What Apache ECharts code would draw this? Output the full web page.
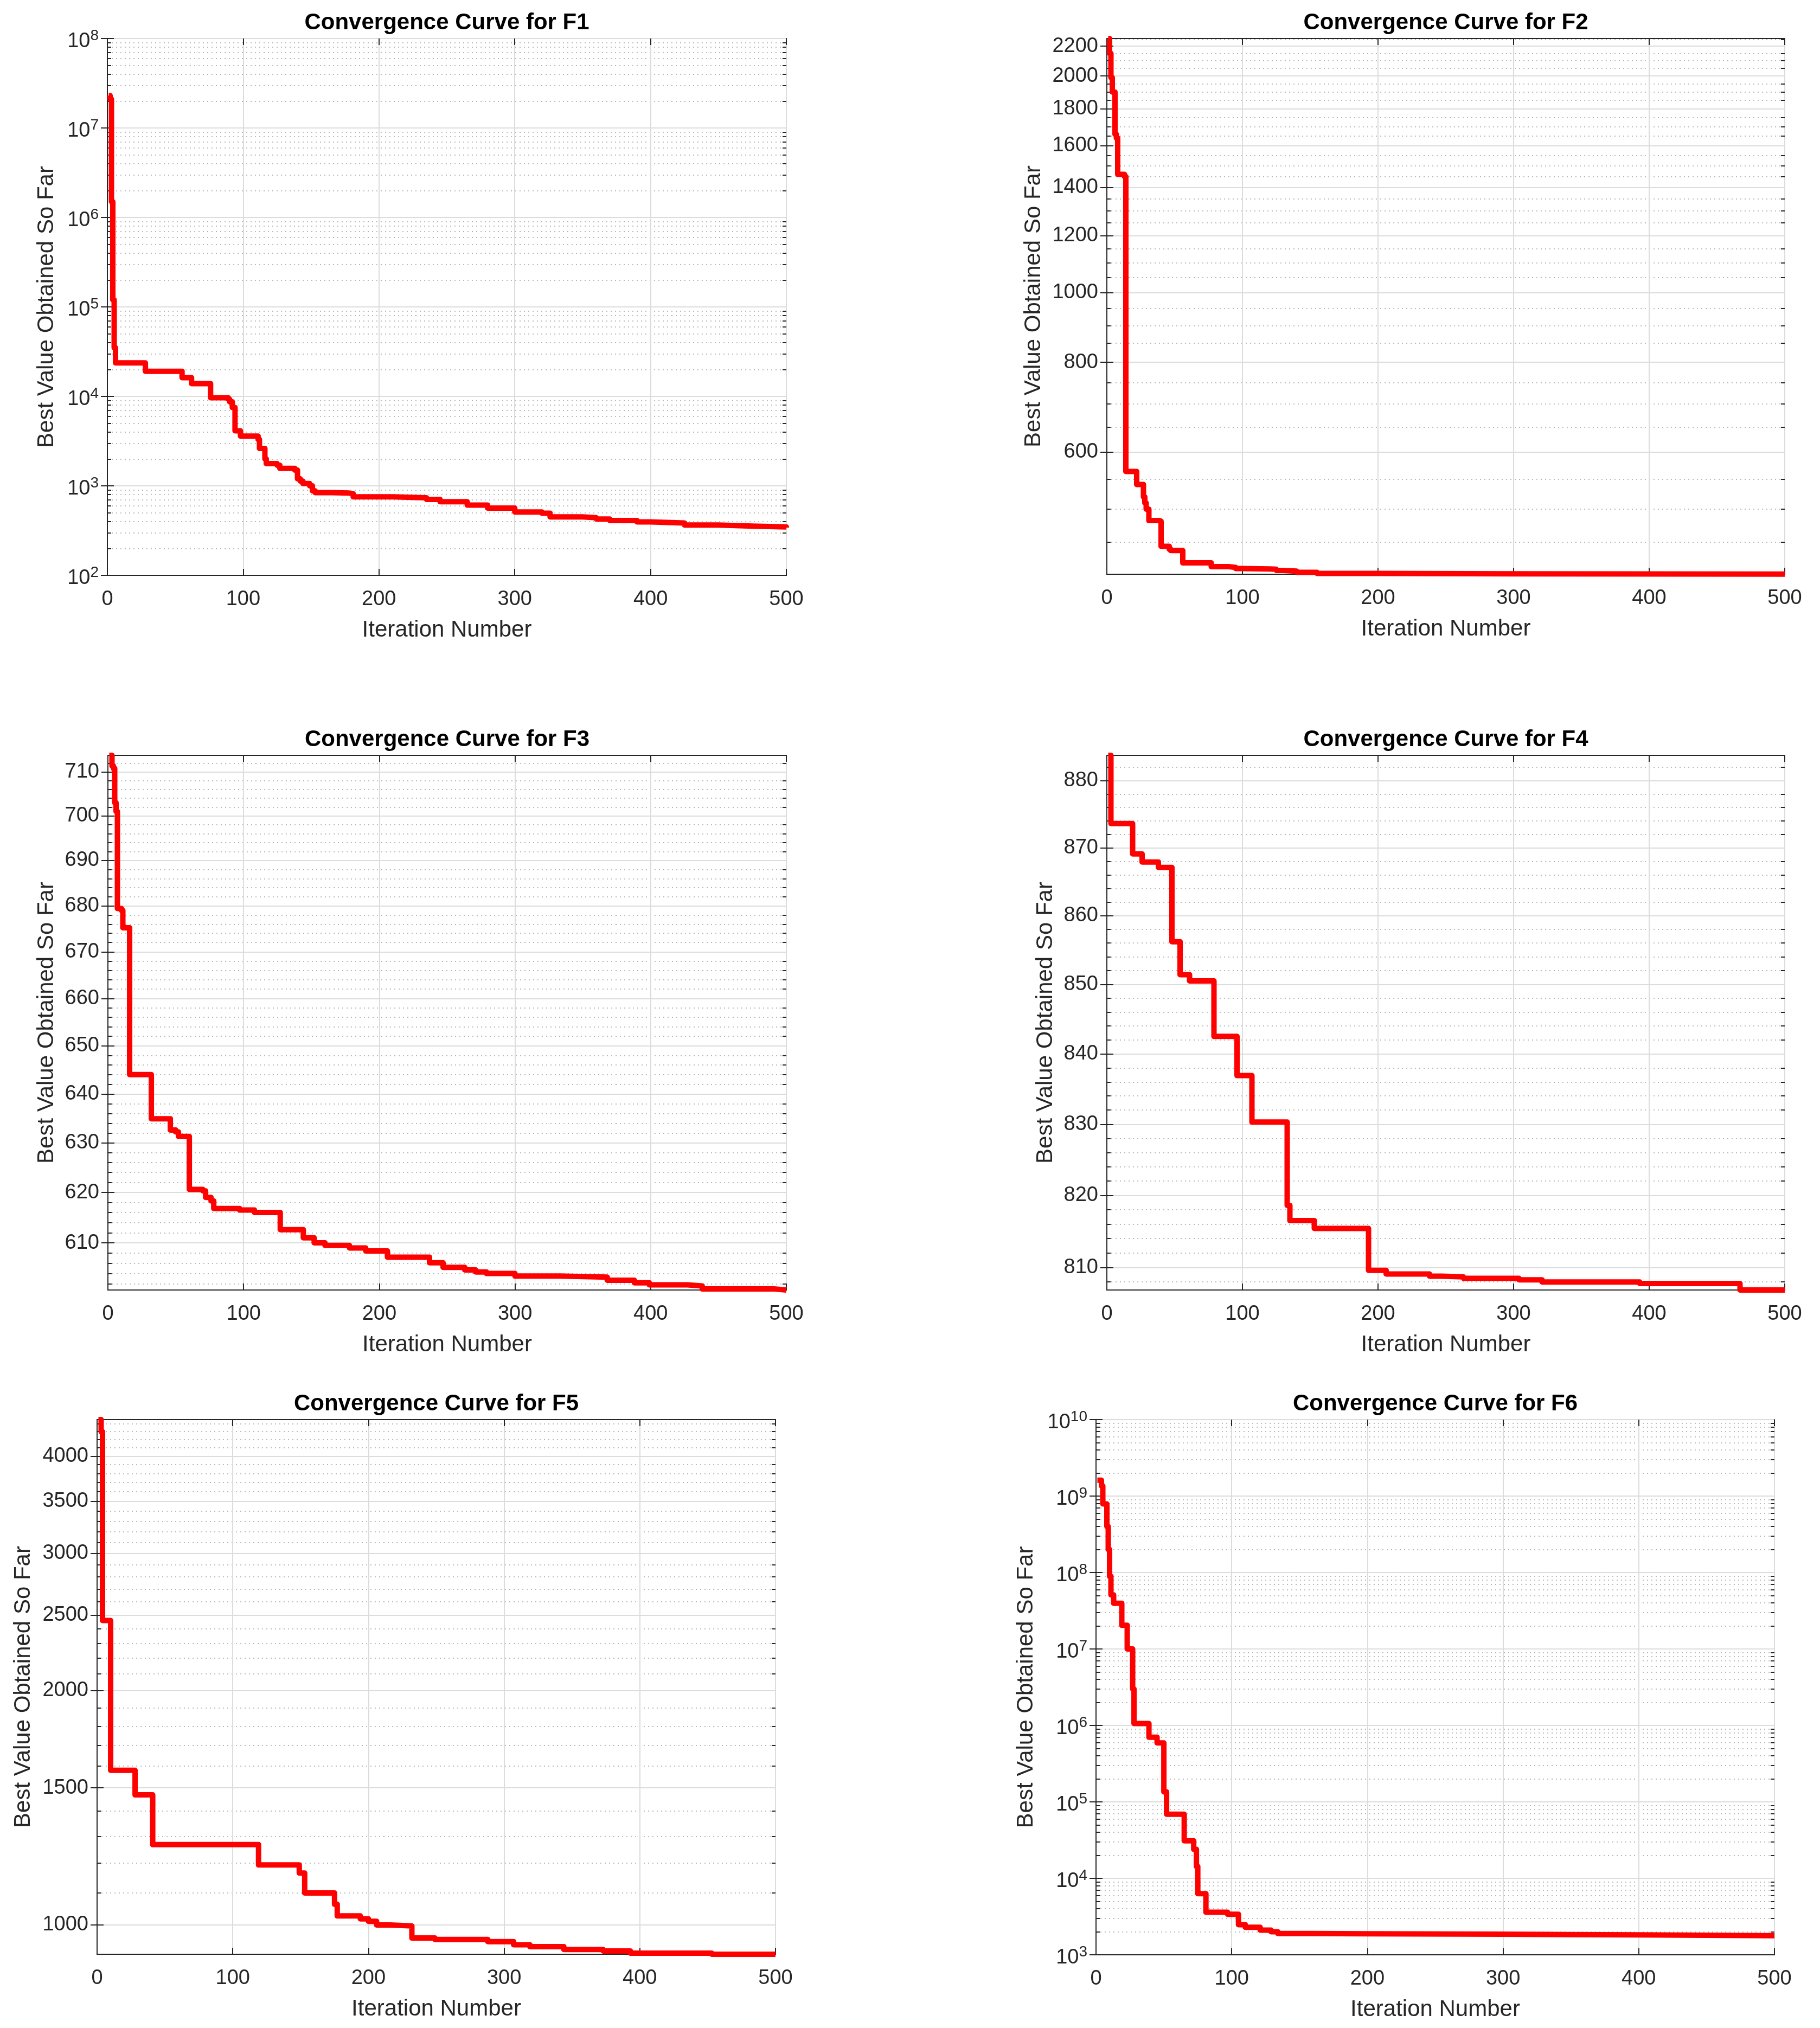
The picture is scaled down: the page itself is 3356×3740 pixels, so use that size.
<!DOCTYPE html>
<html>
<head>
<meta charset="utf-8">
<script src="https://cdn.jsdelivr.net/npm/echarts@6/dist/echarts.min.js"></script>
<style>
html,body{margin:0;padding:0;background:#ffffff;}
#chart{width:3356px;height:3740px;}
</style>
</head>
<body>
<div id="chart"></div>
<script>
// ---------------- data ----------------
const titles = ['Convergence Curve for F1','Convergence Curve for F2','Convergence Curve for F3',
                'Convergence Curve for F4','Convergence Curve for F5','Convergence Curve for F6'];
const xName = 'Iteration Number';
const yName = 'Best Value Obtained So Far';
const xTicks = [0, 100, 200, 300, 400, 500];

const itF1 = [1,2,3,4,5,6,28,55,62,76,89,90,92,94,98,111,112,116,117,125,127,138,140,142,144,149,151,153,165,178,181,210,235,245,265,280,300,320,326,350,360,370,390,400,425,450,475,500];
const vF1  = [2.3e7,2.1e7,1.5e6,1.2e5,3.5e4,2.37e4,1.91e4,1.62e4,1.39e4,9650,9300,8700,7500,4120,3600,3300,2620,2000,1770,1700,1570,1500,1200,1130,1060,1000,880,840,830,815,755,735,705,665,610,565,510,495,450,440,425,410,395,385,365,355,348,342];

const itF2 = [1,2,3,4,6,7,8,13,14,22,27,28,29,31,39,40,46,47,56,77,90,95,100,120,125,130,140,155,200,300,400,500];
const vF2  = [2255,2150,1990,1900,1660,1640,1460,1450,564,541,520,510,500,482,481,444,440,438,421,416,415,413.5,413,412.5,411,410,408.5,407,406.6,406.3,406.1,406];

const itF3 = [1,3,4,5,6,7,10,11,16,32,46,50,52,60,70,72,76,78,97,108,127,144,152,160,178,190,206,237,247,263,271,279,300,333,368,388,399,427,438,491,500];
const vF3  = [713.8,711.4,710.8,703,701,679.4,679,675.2,644,634.9,632.6,632.2,631.3,620.6,620.3,619,618.3,616.8,616.5,616,612.6,611,610,609.5,609,608.4,607.2,606.1,605.2,604.7,604.3,604,603.5,603.3,602.7,602.2,601.8,601.6,601,600.8,600.8];

const itF4 = [1,3,19,26,38,48,54,61,79,96,107,133,135,153,193,206,238,247,263,304,321,393,467,500];
const vF4  = [883.8,873.6,869.1,867.9,867.1,856.2,851.4,850.5,842.5,836.9,830.3,818.6,816.5,815.4,809.6,809.1,808.8,808.7,808.5,808.3,808.0,807.8,806.9,806.9];

const itF5 = [1,3,4,10,28,41,119,149,153,175,177,194,200,206,216,232,249,288,307,319,344,373,393,453,500];
const vF5  = [4456,4300,2460,1580,1469,1268,1194,1166,1099,1063,1027,1018,1011,1000,997,962,958,952,943,938,930,926,920,917,917];

const itF6 = [1,4,5,8,9,10,11,13,19,23,27,28,39,45,50,52,65,72,74,75,81,97,105,110,121,129,134,160,200,300,350,400,450,500];
const vF6  = [1.61e9,1.36e9,7.9e8,4.0e8,2.0e8,8.9e7,5.1e7,3.96e7,2.04e7,1.0e7,3.0e6,1.06e6,7.0e5,5.9e5,1.35e5,6.9e4,3.1e4,2.4e4,1.43e4,6300,3600,3390,2480,2290,2100,2000,1900,1880,1860,1840,1820,1800,1780,1770];

// y-axis ranges and labelled ticks
const yRangeF1 = [1e2, 1e8];     const yTicksF1 = [1e2,1e3,1e4,1e5,1e6,1e7,1e8];
const yRangeF2 = [406, 2255];    const yTicksF2 = [600,800,1000,1200,1400,1600,1800,2000,2200];
const yRangeF3 = [600.8, 713.8]; const yTicksF3 = [610,620,630,640,650,660,670,680,690,700,710];
const yRangeF4 = [806.9, 883.8]; const yTicksF4 = [810,820,830,840,850,860,870,880];
const yRangeF5 = [917, 4456];    const yTicksF5 = [1000,1500,2000,2500,3000,3500,4000];
const yRangeF6 = [1e3, 1e10];    const yTicksF6 = [1e3,1e4,1e5,1e6,1e7,1e8,1e9,1e10];

// minor (unlabelled) tick positions
function decadeMinors(k0, k1){ const r=[]; for(let k=k0;k<=k1;k++){ for(let m=2;m<=9;m++){ r.push(m*Math.pow(10,k)); } } return r; }
function stepMinors(a, b, step, majors){ const r=[]; for(let v=a; v<=b+1e-9; v+=step){ const x=+v.toFixed(6); if (majors.indexOf(x)<0) r.push(x); } return r; }
const yMinorF1 = decadeMinors(2, 7);
const yMinorF2 = stepMinors(450, 2250, 50, yTicksF2);
const yMinorF3 = stepMinors(602, 712, 2, yTicksF3);
const yMinorF4 = stepMinors(808, 882, 2, yTicksF4);
const yMinorF5 = stepMinors(1100, 4400, 100, yTicksF5);
const yMinorF6 = decadeMinors(3, 9);

// ---------------- layout & style ----------------
const FONT = "'Liberation Sans', Arial, Helvetica, sans-serif";
const TXT = '#262626';
const MAJOR_GRID = '#dcdcdc';
const MINOR_GRID = '#b9b9b9';

const panels = [
  {it:itF1, v:vF1, range:yRangeF1, ticks:yTicksF1, minor:yMinorF1, pow:true,  box:[198,71,1252,990],   yGap:91},
  {it:itF2, v:vF2, range:yRangeF2, ticks:yTicksF2, minor:yMinorF2, pow:false, box:[2041,71,1250,988],  yGap:114},
  {it:itF3, v:vF3, range:yRangeF3, ticks:yTicksF3, minor:yMinorF3, pow:false, box:[199,1393,1251,986], yGap:92},
  {it:itF4, v:vF4, range:yRangeF4, ticks:yTicksF4, minor:yMinorF4, pow:false, box:[2041,1393,1250,986],yGap:92},
  {it:itF5, v:vF5, range:yRangeF5, ticks:yTicksF5, minor:yMinorF5, pow:false, box:[179,2618,1251,986], yGap:115},
  {it:itF6, v:vF6, range:yRangeF6, ticks:yTicksF6, minor:yMinorF6, pow:true,  box:[2021,2618,1251,987],yGap:108}
];

const option = {backgroundColor:'#ffffff', animation:false, grid:[], xAxis:[], yAxis:[], series:[]};

panels.forEach((p, i) => {
  const [l, t, w, h] = p.box;
  option.grid.push({left:l, top:t, width:w, height:h, show:true, backgroundColor:'#ffffff', borderColor:TXT, borderWidth:2});

  const xBase = {type:'value', gridIndex:i, min:xTicks[0], max:xTicks[xTicks.length-1], interval:xTicks[1]-xTicks[0]};
  option.xAxis.push(Object.assign({}, xBase, {
    position:'bottom', name:xName, nameLocation:'middle', nameGap:80,
    nameTextStyle:{fontFamily:FONT, fontSize:42, color:TXT},
    axisLine:{show:true, onZero:false, lineStyle:{color:TXT, width:2}},
    axisTick:{show:true, inside:true, length:12, lineStyle:{color:TXT, width:2}},
    axisLabel:{show:true, margin:26, fontFamily:FONT, fontSize:38, color:TXT, showMinLabel:true, showMaxLabel:true},
    splitLine:{show:true, lineStyle:{color:MAJOR_GRID, width:2}}
  }));
  option.xAxis.push(Object.assign({}, xBase, {
    position:'top', name:titles[i], nameLocation:'middle', nameGap:8,
    nameTextStyle:{fontFamily:FONT, fontSize:42, fontWeight:'bold', color:'#000000'},
    axisLine:{show:false},
    axisTick:{show:true, inside:true, length:12, lineStyle:{color:TXT, width:2}},
    axisLabel:{show:false}, splitLine:{show:false}
  }));

  const yBase = {type:'log', logBase:10, gridIndex:i, min:p.range[0], max:p.range[1]};
  const yi = option.yAxis.length;
  const label = {show:true, customValues:p.ticks, margin:16, fontFamily:FONT, fontSize:38, color:TXT, showMinLabel:true, showMaxLabel:true};
  if (p.pow) {
    label.formatter = function (val) { return '{b|10}{e|' + Math.round(Math.log10(val)) + '}'; };
    label.rich = {
      b:{fontFamily:FONT, fontSize:38, lineHeight:38, color:TXT, padding:[11,0,0,0]},
      e:{fontFamily:FONT, fontSize:28, lineHeight:28, color:TXT, verticalAlign:'top'}
    };
  } else {
    label.formatter = function (val) { return String(Math.round(val)); };
  }
  option.yAxis.push(Object.assign({}, yBase, {
    position:'left', name:yName, nameLocation:'middle', nameRotate:90, nameGap:p.yGap,
    nameTextStyle:{fontFamily:FONT, fontSize:42, color:TXT},
    axisLine:{show:true, onZero:false, lineStyle:{color:TXT, width:2}},
    axisTick:{show:true, inside:true, length:12, customValues:p.ticks, lineStyle:{color:TXT, width:2}},
    axisLabel:label,
    splitLine:{show:true, lineStyle:{color:MAJOR_GRID, width:2}}
  }));
  option.yAxis.push(Object.assign({}, yBase, {
    position:'left', axisLine:{show:false},
    axisTick:{show:true, inside:true, length:7, customValues:p.minor, lineStyle:{color:TXT, width:2}},
    axisLabel:{show:false, customValues:p.minor},
    splitLine:{show:true, lineStyle:{color:MINOR_GRID, width:2, type:[2,6]}}
  }));
  option.yAxis.push(Object.assign({}, yBase, {
    position:'right', axisLine:{show:false},
    axisTick:{show:true, inside:true, length:12, customValues:p.ticks, lineStyle:{color:TXT, width:2}},
    axisLabel:{show:false, customValues:p.ticks}, splitLine:{show:false}
  }));
  option.yAxis.push(Object.assign({}, yBase, {
    position:'right', axisLine:{show:false},
    axisTick:{show:true, inside:true, length:7, customValues:p.minor, lineStyle:{color:TXT, width:2}},
    axisLabel:{show:false, customValues:p.minor}, splitLine:{show:false}
  }));

  option.series.push({
    type:'line', xAxisIndex:2*i, yAxisIndex:yi, step:'end', showSymbol:false, symbol:'none',
    lineStyle:{color:'#ff0000', width:10, cap:'butt', join:'round'}, z:5,
    data:p.it.map((x, k) => [x, p.v[k]])
  });
});

const chart = echarts.init(document.getElementById('chart'), null, {renderer:'canvas'});
chart.setOption(option);
</script>
</body>
</html>
